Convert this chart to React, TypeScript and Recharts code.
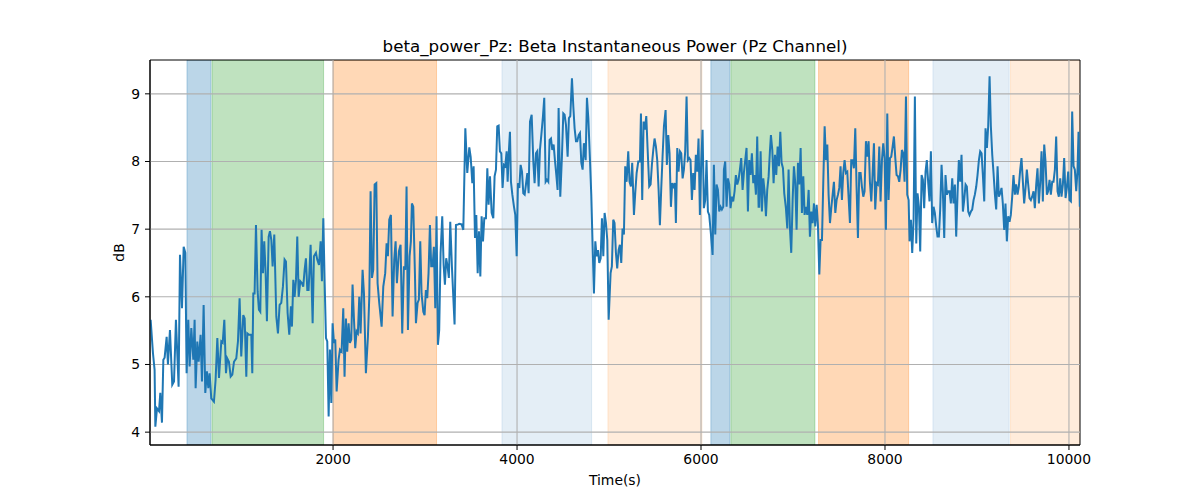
import React from "react";
import {
  ComposedChart,
  Line,
  XAxis,
  YAxis,
  ReferenceArea,
  ReferenceLine,
} from "recharts";

// [time (s), beta power (dB)], split by stretch of the recording
const SEG_A: [number, number][] = [
  [17, 5.66], [42, 5.17], [60, 4.92], [68, 4.08], [86, 4.35], [108, 4.31], [122, 4.58], [140, 4.14],
  [155, 5.07], [169, 5.1], [191, 5.41], [205, 5.0], [227, 5.51], [252, 4.7], [271, 4.75], [292, 5.66],
  [321, 4.67], [336, 6.62], [358, 5.83], [376, 6.74], [394, 6.65], [408, 4.87], [426, 5.66], [441, 4.97],
  [459, 5.54], [481, 5.07], [495, 5.66], [506, 4.65], [524, 5.34], [539, 5.04], [560, 5.44], [575, 4.75],
  [593, 5.88], [611, 4.58], [629, 4.9], [644, 4.65], [658, 4.87], [676, 4.5], [705, 4.45], [723, 4.77],
  [742, 5.39], [760, 4.8], [785, 5.34], [800, 5.32], [818, 5.66], [836, 4.87], [850, 5.09], [868, 5.04],
  [887, 4.82], [905, 4.85], [923, 5.04], [948, 5.09], [966, 5.34], [984, 5.98], [1002, 5.12], [1024, 5.73],
  [1039, 5.68], [1057, 4.82], [1068, 5.46], [1086, 5.44], [1111, 5.44], [1122, 4.87], [1133, 6.05],
  [1147, 6.05], [1162, 7.06], [1180, 6.08], [1194, 5.81], [1209, 5.78], [1223, 6.99], [1238, 6.35],
  [1252, 6.82], [1267, 6.35], [1281, 5.64], [1300, 6.89], [1314, 6.97], [1329, 6.84], [1343, 6.45],
  [1361, 6.92], [1383, 5.71], [1401, 5.46], [1419, 5.88], [1437, 5.91], [1455, 6.15], [1473, 6.55],
  [1488, 6.52], [1506, 5.76], [1524, 5.44], [1542, 5.86], [1553, 5.56], [1568, 6.25], [1582, 6.0],
  [1597, 6.25], [1611, 6.89], [1626, 6.0], [1644, 6.23], [1662, 6.2], [1676, 6.15], [1691, 6.4],
  [1705, 6.57], [1720, 6.1],
];

const SEG_B: [number, number][] = [
  [1734, 6.1], [1756, 6.77], [1778, 5.61], [1792, 6.6], [1814, 6.65], [1828, 6.55], [1847, 6.47],
  [1865, 6.82], [1879, 6.23], [1894, 7.16], [1908, 6.25], [1923, 5.39], [1937, 5.34], [1952, 4.23],
  [1966, 5.22], [1981, 4.43], [1995, 5.61], [2010, 5.32], [2024, 5.37], [2039, 4.6], [2060, 5.07],
  [2075, 5.22], [2093, 5.19], [2111, 5.83], [2125, 4.82], [2140, 5.68], [2154, 5.19], [2169, 5.61],
  [2183, 5.32], [2198, 5.37], [2212, 6.18], [2227, 5.68], [2241, 5.24], [2256, 5.49], [2270, 5.46],
  [2285, 6.0], [2299, 5.46], [2321, 6.4], [2336, 6.05], [2357, 4.87], [2379, 5.41], [2394, 6.0],
  [2408, 7.56], [2423, 6.28], [2437, 6.4], [2452, 7.66], [2470, 7.68], [2484, 6.2], [2502, 5.91],
  [2528, 5.56], [2546, 6.15], [2567, 6.35], [2582, 6.79], [2596, 6.6], [2611, 7.14], [2629, 7.21],
  [2647, 5.71], [2665, 6.55], [2680, 6.82], [2694, 6.2], [2716, 6.67], [2734, 6.77], [2752, 5.46],
  [2770, 6.45], [2785, 6.4], [2799, 7.63], [2814, 5.51], [2832, 6.6], [2846, 6.82], [2857, 7.38],
  [2872, 7.33], [2890, 6.35], [2901, 5.61], [2919, 5.91], [2933, 5.96], [2948, 6.82], [2962, 6.05],
  [2981, 5.78], [2995, 5.73], [3009, 6.1], [3024, 5.98], [3038, 6.35], [3053, 7.06], [3067, 6.45],
  [3082, 6.45], [3096, 6.74], [3111, 5.83], [3125, 7.19], [3140, 5.29], [3154, 5.51], [3169, 6.65],
  [3187, 7.19], [3202, 6.47], [3216, 6.18], [3230, 6.57], [3245, 6.45], [3259, 6.28], [3274, 7.11],
  [3292, 6.45], [3321, 5.59], [3336, 7.06], [3361, 7.07],
];

const SEG_C: [number, number][] = [
  [3372, 7.08], [3398, 7.07], [3416, 6.99], [3438, 8.49], [3459, 7.83], [3481, 8.21], [3496, 8.07],
  [3514, 7.68], [3528, 7.93], [3543, 6.87], [3557, 7.21], [3572, 6.35], [3586, 6.97], [3601, 6.3],
  [3615, 7.19], [3630, 6.82], [3644, 7.16], [3662, 7.16], [3677, 7.9], [3691, 7.36], [3706, 7.78],
  [3724, 7.24], [3742, 7.16], [3756, 7.78], [3771, 7.88], [3785, 8.52], [3800, 8.53], [3814, 8.15],
  [3829, 8.12], [3843, 7.61], [3858, 7.95], [3872, 7.93], [3887, 8.15], [3898, 7.7], [3912, 8.17],
  [3923, 8.44], [3934, 7.7], [3949, 7.51], [3967, 7.33], [3981, 7.21], [3996, 6.6], [4010, 7.68],
  [4025, 7.61], [4039, 7.95], [4054, 7.85], [4068, 7.53], [4083, 7.51], [4097, 7.66], [4112, 7.83],
  [4126, 7.53], [4141, 8.59], [4159, 8.69], [4177, 8.0], [4191, 7.68], [4206, 8.12], [4220, 8.15],
  [4235, 7.63], [4249, 8.17], [4264, 8.39], [4282, 8.67], [4296, 8.94], [4311, 7.7], [4325, 7.73],
  [4340, 7.7], [4354, 8.32], [4369, 8.34], [4383, 8.17], [4398, 8.25], [4412, 8.02], [4427, 7.8],
  [4441, 7.58], [4452, 8.79], [4470, 7.48], [4488, 8.07], [4503, 8.71], [4517, 8.69], [4532, 8.54],
  [4550, 8.07], [4564, 8.64], [4579, 8.67], [4597, 9.23], [4612, 8.81], [4626, 8.49], [4641, 8.3],
  [4655, 8.3], [4670, 8.39], [4684, 8.42], [4699, 7.98], [4713, 7.88], [4727, 8.27], [4746, 8.02],
  [4760, 8.94], [4775, 8.64], [4793, 8.02], [4807, 7.51], [4822, 6.74], [4836, 6.05], [4851, 6.82],
  [4865, 6.6], [4880, 6.69], [4894, 6.5], [4909, 6.57], [4923, 7.16], [4938, 6.6], [4952, 7.24],
  [4967, 7.09], [4981, 6.84], [4996, 5.66],
];

const SEG_D: [number, number][] = [
  [5017, 6.35], [5031, 6.45], [5046, 7.14], [5060, 7.09], [5075, 6.65], [5089, 6.42], [5104, 6.69],
  [5118, 6.77], [5133, 6.5], [5147, 7.01], [5162, 6.92], [5176, 7.93], [5191, 7.7], [5209, 8.15],
  [5223, 7.7], [5238, 7.63], [5252, 7.98], [5271, 7.21], [5285, 7.53], [5300, 7.83], [5318, 8.0],
  [5336, 8.0], [5347, 8.71], [5361, 7.43], [5376, 8.59], [5390, 8.47], [5405, 8.67], [5419, 8.2],
  [5437, 7.63], [5452, 7.66], [5466, 7.95], [5481, 8.17], [5495, 8.34], [5510, 8.22], [5524, 8.02],
  [5539, 7.58], [5553, 7.06], [5568, 7.61], [5582, 8.07], [5597, 8.52], [5615, 8.76], [5629, 7.95],
  [5644, 8.39], [5658, 8.12], [5673, 7.33], [5687, 7.68], [5702, 7.63], [5716, 7.68], [5727, 7.09],
  [5742, 8.2], [5756, 7.85], [5771, 8.15], [5785, 8.12], [5800, 7.75], [5814, 7.88], [5828, 8.15],
  [5843, 8.96], [5857, 8.02], [5872, 8.05], [5886, 8.02], [5901, 7.43], [5915, 7.83], [5930, 7.58],
  [5944, 8.1], [5959, 7.85], [5973, 8.34], [5988, 7.21], [6002, 7.98], [6017, 8.47], [6031, 7.31],
  [6046, 7.43], [6060, 8.02], [6075, 7.26], [6089, 7.21], [6107, 6.94], [6126, 6.62], [6140, 7.95],
  [6155, 6.92], [6169, 7.66], [6184, 7.58], [6198, 7.26], [6213, 7.33], [6227, 7.29], [6242, 7.33],
  [6249, 7.88], [6263, 8.0], [6278, 7.33], [6292, 7.75], [6307, 7.66], [6321, 7.31], [6336, 7.48],
  [6350, 7.41], [6365, 7.56], [6379, 7.8], [6394, 7.66], [6408, 7.73], [6423, 7.88], [6437, 8.05],
  [6452, 7.58], [6466, 7.83], [6481, 8.02], [6495, 8.2], [6510, 7.26], [6524, 8.02], [6539, 7.8],
  [6553, 8.12], [6568, 7.68], [6582, 7.8], [6597, 7.51], [6611, 8.37], [6626, 7.33],
];

const SEG_E: [number, number][] = [
  [6633, 7.33], [6648, 8.15], [6662, 7.26], [6677, 7.75], [6691, 7.56], [6706, 7.19], [6720, 7.58],
  [6735, 7.78], [6749, 8.15], [6760, 8.39], [6775, 8.17], [6789, 7.68], [6804, 8.1], [6818, 7.8],
  [6833, 8.22], [6847, 7.93], [6862, 8.44], [6876, 7.98], [6891, 7.9], [6905, 7.53], [6923, 7.31],
  [6938, 7.01], [6952, 7.88], [6967, 7.01], [6981, 6.65], [6996, 7.43], [7010, 7.93], [7025, 7.68],
  [7039, 6.99], [7054, 7.98], [7068, 7.66], [7083, 8.2], [7097, 7.24], [7112, 7.78], [7126, 7.21],
  [7141, 7.33], [7155, 7.21], [7170, 7.58], [7184, 6.89], [7199, 7.26], [7213, 7.09], [7228, 7.38],
  [7242, 7.04], [7257, 7.36], [7271, 7.06], [7286, 6.33], [7300, 6.84], [7315, 6.84], [7329, 7.68],
  [7344, 8.52], [7358, 8.02], [7373, 8.25], [7387, 7.51], [7402, 7.09], [7416, 7.31], [7431, 7.51],
  [7445, 7.7], [7460, 7.24], [7474, 7.43], [7489, 7.51], [7503, 7.61], [7517, 7.93], [7532, 7.43],
  [7546, 7.83], [7561, 8.02], [7575, 7.83], [7590, 7.85], [7604, 7.48], [7619, 7.09], [7633, 8.02],
  [7648, 8.02], [7662, 7.9], [7677, 8.49], [7691, 7.63], [7706, 6.87], [7720, 7.83], [7735, 7.83],
  [7749, 7.63], [7764, 7.48], [7778, 7.56], [7793, 8.3], [7807, 8.07], [7822, 8.3], [7836, 7.7],
  [7851, 7.41], [7865, 7.8], [7880, 8.27], [7894, 7.29], [7909, 7.68], [7923, 7.66], [7938, 8.22],
  [7952, 7.41], [7967, 8.02], [7981, 8.27], [7996, 8.05], [8010, 6.99], [8025, 8.71], [8039, 7.43],
  [8054, 8.05], [8068, 8.07], [8083, 8.22], [8097, 8.37], [8112, 8.05], [8126, 7.8], [8141, 7.78],
  [8155, 7.7], [8170, 7.88], [8184, 8.17], [8199, 8.12], [8213, 7.7], [8228, 8.96], [8242, 7.51],
  [8257, 7.43],
];

const SEG_F: [number, number][] = [
  [8267, 6.82], [8282, 7.14], [8296, 6.65], [8311, 7.14], [8325, 8.96], [8340, 6.79], [8354, 7.53],
  [8369, 7.33], [8383, 6.67], [8398, 7.8], [8412, 7.73], [8426, 7.31], [8441, 7.85], [8455, 8.02],
  [8470, 7.68], [8484, 7.41], [8499, 8.15], [8513, 7.09], [8528, 7.33], [8542, 7.24], [8557, 7.04],
  [8571, 6.89], [8586, 6.89], [8600, 7.29], [8615, 7.95], [8629, 7.56], [8644, 6.87], [8658, 7.8],
  [8673, 7.51], [8687, 7.56], [8702, 7.56], [8716, 7.38], [8731, 7.75], [8745, 7.38], [8760, 7.66],
  [8774, 6.89], [8789, 7.53], [8803, 8.02], [8818, 7.7], [8832, 8.1], [8847, 7.26], [8861, 7.43],
  [8876, 7.66], [8890, 7.63], [8905, 7.26], [8919, 7.21], [8934, 7.26], [8948, 7.29], [8963, 7.43],
  [8977, 7.51], [8992, 7.63], [9006, 7.8], [9021, 8.02], [9035, 8.15], [9050, 8.12], [9064, 7.8],
  [9079, 7.41], [9093, 8.49], [9108, 8.2], [9122, 8.52], [9137, 9.26], [9151, 8.52], [9166, 8.1],
  [9180, 7.83], [9195, 7.51], [9209, 7.29], [9224, 7.93], [9238, 7.48], [9253, 7.53], [9267, 7.61],
  [9281, 7.38], [9296, 6.99], [9310, 7.38], [9325, 6.82], [9339, 7.19], [9354, 7.11], [9368, 7.21],
  [9383, 7.48], [9397, 7.8], [9412, 7.51], [9426, 7.66], [9441, 7.51], [9455, 7.63], [9470, 7.88],
  [9484, 8.05], [9499, 7.7], [9513, 7.38], [9528, 7.61], [9542, 7.88], [9557, 7.66], [9571, 7.46],
  [9586, 7.43], [9600, 7.48], [9615, 7.56], [9629, 7.31], [9644, 7.66], [9658, 7.9], [9673, 7.38],
  [9687, 7.68], [9702, 8.15], [9716, 7.41], [9731, 8.25], [9745, 8.0], [9760, 7.51], [9774, 7.56],
  [9789, 7.73], [9803, 7.51], [9818, 7.7], [9832, 7.7], [9847, 7.88], [9861, 8.37], [9876, 7.56],
  [9890, 7.48], [9905, 7.75], [9919, 7.48], [9934, 7.66], [9948, 8.05], [9963, 7.46], [9977, 7.61],
  [9992, 7.85], [10006, 7.43], [10021, 7.41], [10035, 8.74], [10050, 7.93], [10064, 7.88],
  [10079, 7.56], [10093, 7.88], [10104, 8.44], [10118, 7.33],
];

// shaded epochs: [start, end, colour, opacity]
const BANDS: [number, number, string, number][] = [
  [412, 673, "#1f77b4", 0.3],
  [684, 1897, "#2ca02c", 0.3],
  [2000, 3125, "#ff7f0e", 0.3],
  [3836, 4811, "#1f77b4", 0.12],
  [4988, 6010, "#ff7f0e", 0.15],
  [6107, 6314, "#1f77b4", 0.3],
  [6325, 7238, "#2ca02c", 0.3],
  [7278, 8257, "#ff7f0e", 0.3],
  [8521, 9350, "#1f77b4", 0.12],
  [9365, 10120, "#ff7f0e", 0.15],
];

const X_TICKS = [2000, 4000, 6000, 8000, 10000];
const Y_TICKS = [4, 5, 6, 7, 8, 9];
const X_DOMAIN: [number, number] = [10, 10120];
const Y_DOMAIN: [number, number] = [3.81, 9.5];

const data = [...SEG_A, ...SEG_B, ...SEG_C, ...SEG_D, ...SEG_E, ...SEG_F].map(([t, v]) => ({ t, v }));

const FONT = "'DejaVu Sans', sans-serif";
const tickStyle = { fill: "#000", fontSize: 13.9, fontFamily: FONT };

export default function App() {
  return (
    <div style={{ position: "absolute", left: 0, top: 0, width: 1200, height: 500, background: "#fff" }}>
      <div
        style={{
          position: "absolute", left: 150, width: 930, top: 36, textAlign: "center",
          fontFamily: FONT, fontSize: 16.7, lineHeight: "20px", color: "#000",
        }}
      >
        beta_power_Pz: Beta Instantaneous Power (Pz Channel)
      </div>
      <div
        style={{
          position: "absolute", left: 150, width: 930, top: 472, textAlign: "center",
          fontFamily: FONT, fontSize: 13.9, lineHeight: "17px", color: "#000",
        }}
      >
        Time(s)
      </div>
      <div
        style={{
          position: "absolute", left: 104, top: 244, width: 30, textAlign: "center",
          fontFamily: FONT, fontSize: 13.9, lineHeight: "17px", color: "#000",
          transform: "rotate(-90deg)",
        }}
      >
        dB
      </div>
      <ComposedChart
        width={1200}
        height={500}
        data={data}
        margin={{ top: 60, right: 120, bottom: 25, left: 90 }}
      >
        <XAxis
          dataKey="t"
          type="number"
          domain={X_DOMAIN}
          ticks={X_TICKS}
          allowDataOverflow
          height={30}
          tickSize={5}
          tickMargin={4}
          tick={tickStyle}
          axisLine={{ stroke: "#000" }}
          tickLine={{ stroke: "#000" }}
        />
        <YAxis
          type="number"
          domain={Y_DOMAIN}
          ticks={Y_TICKS}
          allowDataOverflow
          width={60}
          tickSize={5}
          tickMargin={5}
          tick={tickStyle}
          axisLine={{ stroke: "#000" }}
          tickLine={{ stroke: "#000" }}
        />
        {BANDS.map(([x1, x2, color, op]) => (
          <ReferenceArea
            key={x1}
            x1={x1}
            x2={x2}
            fill={color}
            fillOpacity={op}
            stroke={color}
            strokeOpacity={op}
            ifOverflow="hidden"
          />
        ))}
        {X_TICKS.map((x) => (
          <ReferenceLine key={"gx" + x} x={x} stroke="#b0b0b0" strokeWidth={1.1} />
        ))}
        {Y_TICKS.map((y) => (
          <ReferenceLine key={"gy" + y} y={y} stroke="#b0b0b0" strokeWidth={1.1} />
        ))}
        <Line
          type="linear"
          dataKey="v"
          stroke="#1f77b4"
          strokeWidth={2}
          dot={false}
          isAnimationActive={false}
        />
        <ReferenceArea
          x1={X_DOMAIN[0]}
          x2={X_DOMAIN[1]}
          y1={Y_DOMAIN[0]}
          y2={Y_DOMAIN[1]}
          fill="none"
          stroke="#000"
          strokeWidth={1}
        />
      </ComposedChart>
    </div>
  );
}
